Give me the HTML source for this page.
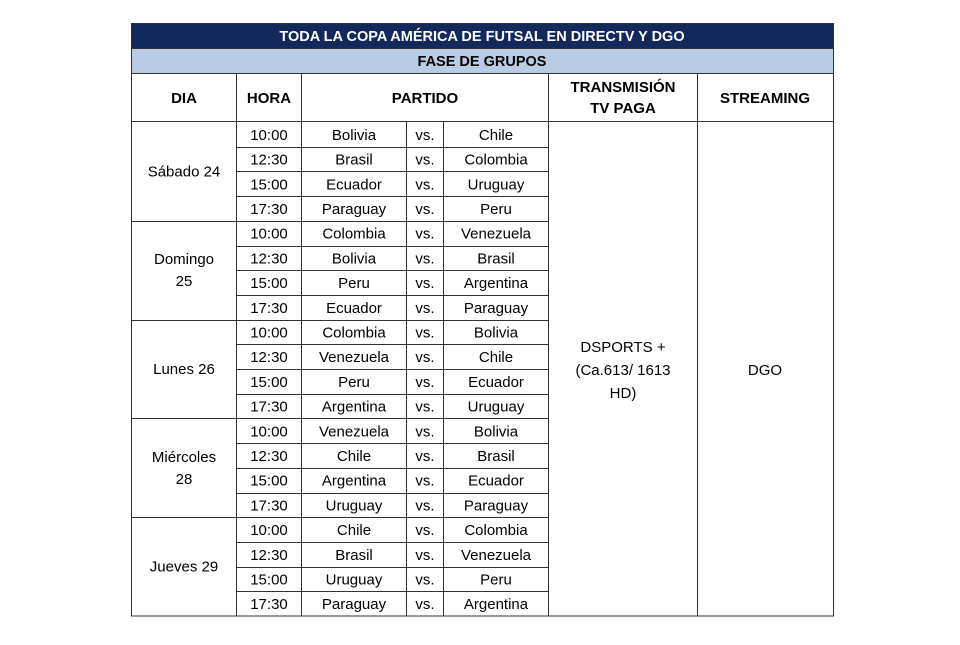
<!DOCTYPE html>
<html><head><meta charset="utf-8"><style>
body{margin:0;background:#fff;width:960px;height:640px;overflow:hidden}
svg text{font-family:"Liberation Sans",sans-serif;font-size:15px;fill:#000;text-anchor:middle}
.b{font-weight:bold}
</style></head><body>
<svg width="960" height="640" xmlns="http://www.w3.org/2000/svg">
<rect x="131" y="23" width="702" height="25" fill="#13295c"/>
<rect x="131" y="48" width="702" height="25" fill="#b8cce4"/>
<text x="482" y="41" class="b" style="fill:#fff;font-size:14.5px">TODA LA COPA AMÉRICA DE FUTSAL EN DIRECTV Y DGO</text>
<text x="482" y="66" class="b" style="font-size:14.5px">FASE DE GRUPOS</text>
<g stroke="#333" stroke-width="1" fill="none">
<rect x="131.5" y="23.5" width="702" height="592.5"/>
<line x1="131" y1="48.5" x2="833" y2="48.5"/>
<line x1="131" y1="73.5" x2="833" y2="73.5"/>
<line x1="131" y1="121.5" x2="833" y2="121.5"/>
<line x1="236.5" y1="73" x2="236.5" y2="616"/>
<line x1="301.5" y1="73" x2="301.5" y2="616"/>
<line x1="548.5" y1="73" x2="548.5" y2="616"/>
<line x1="697.5" y1="73" x2="697.5" y2="616"/>
<line x1="406.5" y1="122" x2="406.5" y2="616"/>
<line x1="443.5" y1="122" x2="443.5" y2="616"/>
</g>
<g class="b">
<text x="184" y="103" class="b">DIA</text>
<text x="269" y="103" class="b">HORA</text>
<text x="425" y="103" class="b">PARTIDO</text>
<text x="623" y="92" class="b">TRANSMISIÓN</text>
<text x="623" y="113" class="b">TV PAGA</text>
<text x="765" y="103" class="b">STREAMING</text>
</g>
<text x="623" y="352">DSPORTS +</text>
<text x="623" y="375">(Ca.613/ 1613</text>
<text x="623" y="398">HD)</text>
<text x="765" y="375">DGO</text>
<g id="rows"></g>
</svg>
<script>
var d=[["Sábado 24",[["10:00","Bolivia","Chile"],["12:30","Brasil","Colombia"],["15:00","Ecuador","Uruguay"],["17:30","Paraguay","Peru"]]],
["Domingo|25",[["10:00","Colombia","Venezuela"],["12:30","Bolivia","Brasil"],["15:00","Peru","Argentina"],["17:30","Ecuador","Paraguay"]]],
["Lunes 26",[["10:00","Colombia","Bolivia"],["12:30","Venezuela","Chile"],["15:00","Peru","Ecuador"],["17:30","Argentina","Uruguay"]]],
["Miércoles|28",[["10:00","Venezuela","Bolivia"],["12:30","Chile","Brasil"],["15:00","Argentina","Ecuador"],["17:30","Uruguay","Paraguay"]]],
["Jueves 29",[["10:00","Chile","Colombia"],["12:30","Brasil","Venezuela"],["15:00","Uruguay","Peru"],["17:30","Paraguay","Argentina"]]]];
var s="",y0=122,h=24.7,NS="http://www.w3.org/2000/svg";
d.forEach(function(g,i){var gy=y0+i*4*h;
 var L=g[0].split("|");
 if(L.length==1)s+='<text x="184" y="'+(gy+2*h+5)+'">'+L[0]+'</text>';
 else{s+='<text x="184" y="'+(gy+2*h-6)+'">'+L[0]+'</text><text x="184" y="'+(gy+2*h+16)+'">'+L[1]+'</text>';}
 if(i<4)s+='<line x1="131" x2="548" y1="'+(Math.round(gy+4*h)+.5)+'" y2="'+(Math.round(gy+4*h)+.5)+'" stroke="#333"/>';
 g[1].forEach(function(r,j){var ry=gy+j*h;
  if(j>0)s+='<line x1="236" x2="548" y1="'+(Math.round(ry)+.5)+'" y2="'+(Math.round(ry)+.5)+'" stroke="#333"/>';
  var ty=ry+h/2+5.5;
  s+='<text x="269" y="'+ty+'">'+r[0]+'</text><text x="354" y="'+ty+'">'+r[1]+'</text><text x="425" y="'+ty+'">vs.</text><text x="496" y="'+ty+'">'+r[2]+'</text>';
 });
});
document.getElementById("rows").innerHTML=s;
</script>
</body></html>
